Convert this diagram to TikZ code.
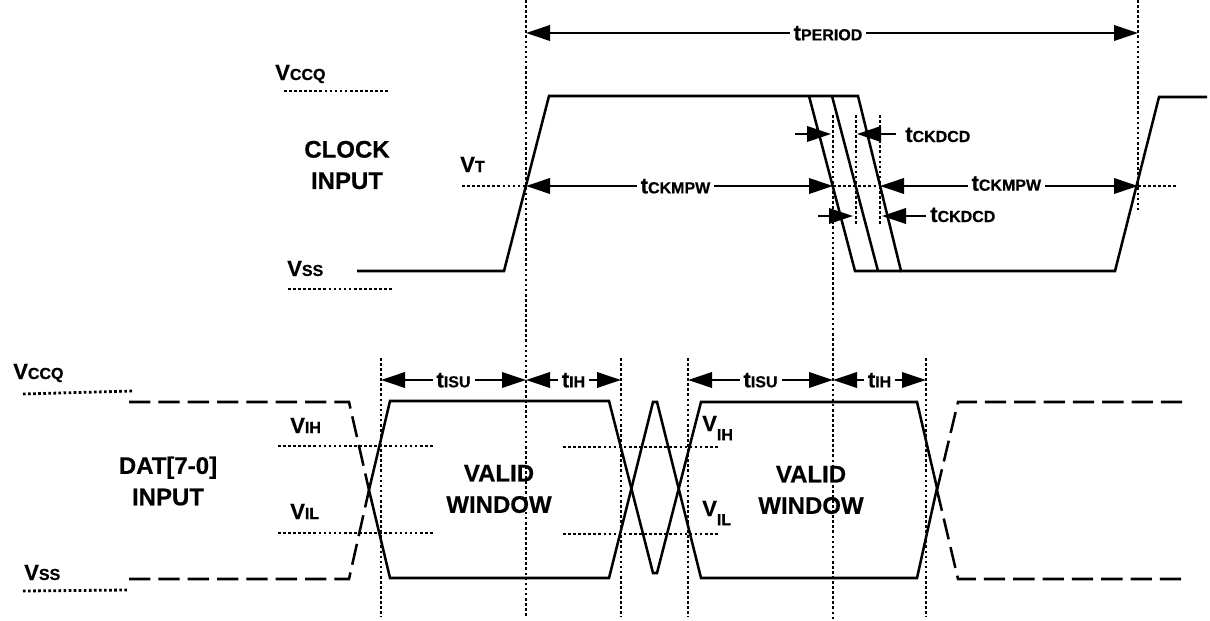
\documentclass[tikz,border=0pt]{standalone}
\usepackage{fontspec}
\setmainfont{Liberation Sans}[BoldFeatures={FakeBold=0.6}]
\usetikzlibrary{arrows.meta}
\newcommand{\lab}[2]{\fontsize{16.5}{16.5}\selectfont\bfseries #1{\fontsize{12}{12}\selectfont #2}}
\newcommand{\labl}[2]{\fontsize{16.5}{16.5}\selectfont\bfseries #1\raisebox{-0.42em}{\fontsize{12}{12}\selectfont #2}}
\tikzset{
  x=0.75pt,y=-0.75pt,
  sig/.style={line width=1.9pt,line join=miter},
  dsig/.style={line width=1.9pt,dash pattern=on 16pt off 6pt},
  dot/.style={line width=2.1pt,dash pattern=on 2pt off 1.8pt},
  dim/.style={line width=1.9pt,{Triangle[length=18pt,width=11.5pt]}-{Triangle[length=18pt,width=11.5pt]}},
  oneway/.style={line width=1.9pt,-{Triangle[length=18pt,width=11.5pt]}},
  txt/.style={inner sep=0pt,anchor=base west},
  midl/.style={inner sep=3pt,fill=white,anchor=base},
  big/.style={inner sep=0pt,align=center,font=\fontsize{18}{23.5}\selectfont\bfseries},
}
\begin{document}
\begin{tikzpicture}
\useasboundingbox (0,0) rectangle (1210,621);
% guide verticals
\coordinate (a1) at (526,0);   \coordinate (a2) at (526,617);
\coordinate (b1) at (833,115); \coordinate (b2) at (833,621);
\coordinate (c1) at (856,115); \coordinate (c2) at (856,225);
\coordinate (d1) at (880,115); \coordinate (d2) at (880,225);
\coordinate (e1) at (1138,0);  \coordinate (e2) at (1138,212);
\coordinate (f1) at (381,358); \coordinate (f2) at (381,617);
\coordinate (g1) at (621,358); \coordinate (g2) at (621,617);
\coordinate (h1) at (688,358); \coordinate (h2) at (688,617);
\coordinate (i1) at (926,358); \coordinate (i2) at (926,617);
\foreach \p/\q in {a1/a2,b1/b2,c1/c2,d1/d2,e1/e2,f1/f2,g1/g2,h1/h2,i1/i2}
  \draw[dot] (\p) -- (\q);
% level lines
\draw[dot] (284,91) -- (388,91);
\draw[dot] (288,289) -- (392,289);
\draw[dot] (462,186) -- (526,186);
\draw[dot] (833,186) -- (880,186);
\draw[dot] (1138,186) -- (1176,186);
\draw[dot] (23,394) -- (133,391);
\draw[dot] (23,591) -- (127,590);
\draw[dot] (278,446) -- (434,446);
\draw[dot] (278,533) -- (434,533);
\draw[dot] (563,447) -- (719,447);
\draw[dot] (563,534) -- (719,534);
% clock
\draw[sig] (357,271) -- (504,271) -- (549,96) -- (858,96) -- (901,271) -- (1115,271) -- (1159,97) -- (1207,97);
\draw[sig] (809,96) -- (855,271) -- (901,271);
\draw[sig] (832,96) -- (878,271);
% data solid
\draw[sig] (369,490) -- (390,401) -- (609,401) -- (653,573) -- (657,573) -- (701,402) -- (917,402) -- (937,488);
\draw[sig] (369,490) -- (390,578) -- (609,578) -- (653,402) -- (657,402) -- (701,578) -- (917,578) -- (937,488);
% data dashed
\draw[dsig] (129,402) -- (349,402) -- (369,490);
\draw[dsig] (129,579) -- (349,579) -- (369,490);
\draw[dsig] (937,490) -- (958,402) -- (1182,402);
\draw[dsig] (937,490) -- (958,579) -- (1182,579);
% dimensions
\coordinate (p1) at (526,33); \coordinate (p2) at (1138,33);
\draw[dim] (p1) -- node[midl,yshift=-5.5pt,xshift=-3pt] {\lab{t}{PERIOD}} (p2);
\coordinate (m1) at (526,186); \coordinate (m2) at (833,186);
\draw[dim] (m1) -- node[midl,yshift=-5.5pt,xshift=-3pt] {\lab{t}{CKMPW}} (m2);
\coordinate (m3) at (880,186); \coordinate (m4) at (1138,186);
\draw[dim] (m3) -- node[midl,yshift=-3.5pt,xshift=-2pt] {\lab{t}{CKMPW}} (m4);
\coordinate (s1) at (381,380); \coordinate (s2) at (526,380);
\draw[dim] (s1) -- node[midl,yshift=-5.5pt] {\lab{t}{ISU}} (s2);
\coordinate (s3) at (526,380); \coordinate (s4) at (621,380);
\draw[dim] (s3) -- node[midl,yshift=-5.5pt] {\lab{t}{IH}} (s4);
\coordinate (s5) at (688,380); \coordinate (s6) at (833,380);
\draw[dim] (s5) -- node[midl,yshift=-5.5pt] {\lab{t}{ISU}} (s6);
\coordinate (s7) at (833,380); \coordinate (s8) at (926,380);
\draw[dim] (s7) -- node[midl,yshift=-5.5pt] {\lab{t}{IH}} (s8);
\coordinate (k1) at (795,134); \coordinate (k2) at (831,134);
\coordinate (k3) at (896,134); \coordinate (k4) at (857,134);
\coordinate (k5) at (818,216); \coordinate (k6) at (853,216);
\coordinate (k7) at (926,216); \coordinate (k8) at (882,216);
\draw[oneway] (k1) -- (k2);
\draw[oneway] (k3) -- (k4);
\draw[oneway] (k5) -- (k6);
\draw[oneway] (k7) -- (k8);
% labels
\node[txt] (tc1) at (905,142) {\lab{t}{CKDCD}};
\node[txt] (tc2) at (930,222) {\lab{t}{CKDCD}};
\node[txt] (vq1) at (275,80) {\lab{V}{CCQ}};
\node[txt] (vs1) at (287,276) {\lab{V}{SS}};
\node[txt] (vt)  at (460,172) {\lab{V}{T}};
\node[txt] (vq2) at (13,379) {\lab{V}{CCQ}};
\node[txt] (vs2) at (24,580) {\lab{V}{SS}};
\node[txt] (vih1) at (290,433) {\lab{V}{IH}};
\node[txt] (vil1) at (290,519) {\lab{V}{IL}};
\node[txt] (vih2) at (702,431) {\labl{V}{IH}};
\node[txt] (vil2) at (702,516) {\labl{V}{IL}};
\node[big] (clk) at (347,165) {CLOCK\\INPUT};
\node[big] (dat) at (168,481) {DAT[7-0]\\INPUT};
\node[big] (w1) at (499,489) {VALID\\WINDOW};
\node[big] (w2) at (811,490) {VALID\\WINDOW};
\end{tikzpicture}
\end{document}
